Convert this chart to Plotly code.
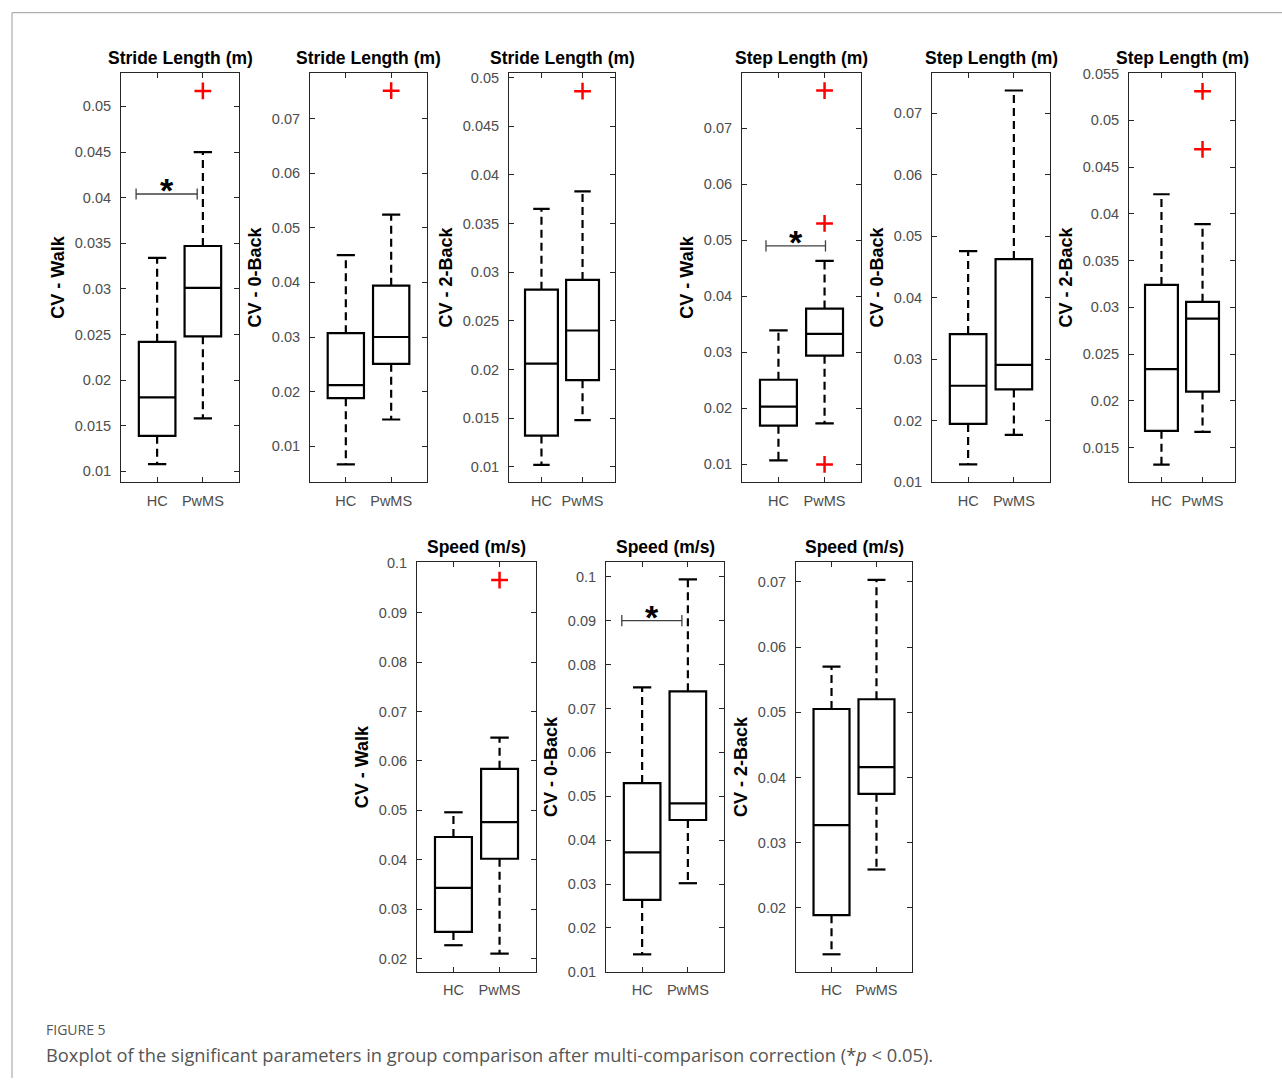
import plotly.graph_objects as go

W, H = 1282, 1086

# ---------------- data ----------------
groups = ["HC", "PwMS"]
group_pos = [1, 2]
panel_titles = ["Stride Length (m)", "Stride Length (m)", "Stride Length (m)",
                "Step Length (m)", "Step Length (m)", "Step Length (m)",
                "Speed (m/s)", "Speed (m/s)", "Speed (m/s)"]
y_titles = ["CV - Walk", "CV - 0-Back", "CV - 2-Back",
            "CV - Walk", "CV - 0-Back", "CV - 2-Back",
            "CV - Walk", "CV - 0-Back", "CV - 2-Back"]

# HC statistics per panel
hc_low = [0.0108, 0.0067, 0.0102, 0.0107, 0.0129, 0.0132, 0.0227, 0.0140, 0.0129]
hc_q1 = [0.0139, 0.0188, 0.0132, 0.0169, 0.0195, 0.0168, 0.0254, 0.0264, 0.0189]
hc_med = [0.0181, 0.0212, 0.0206, 0.0203, 0.0257, 0.0234, 0.0343, 0.0372, 0.0327]
hc_q3 = [0.0242, 0.0307, 0.0282, 0.0251, 0.0341, 0.0324, 0.0446, 0.0530, 0.0505]
hc_high = [0.0334, 0.0450, 0.0365, 0.0339, 0.0476, 0.0421, 0.0496, 0.0748, 0.0570]

# PwMS statistics per panel
pw_low = [0.0158, 0.0149, 0.0148, 0.0173, 0.0177, 0.0167, 0.0210, 0.0302, 0.0259]
pw_q1 = [0.0248, 0.0251, 0.0189, 0.0294, 0.0251, 0.0210, 0.0402, 0.0446, 0.0375]
pw_med = [0.0301, 0.0300, 0.0240, 0.0333, 0.0291, 0.0288, 0.0476, 0.0484, 0.0416]
pw_q3 = [0.0347, 0.0394, 0.0292, 0.0378, 0.0463, 0.0306, 0.0584, 0.0739, 0.0520]
pw_high = [0.0450, 0.0524, 0.0383, 0.0463, 0.0737, 0.0389, 0.0647, 0.0994, 0.0703]

# outliers (PwMS only)
pw_outliers = [[0.0517], [0.0751], [0.0486], [0.0767, 0.0530, 0.0100], [],
               [0.0531, 0.0469], [0.0966], [], []]

# significance bars
sig_panels = [0, 3, 7]
sig_y = [0.0404, 0.0490, 0.0900]
sig_x0 = [0.54, 0.73, 0.556]
sig_x1 = [1.876, 2.02, 1.87]

# y ticks and ranges per panel
y_ticks = [
    [0.01, 0.015, 0.02, 0.025, 0.03, 0.035, 0.04, 0.045, 0.05],
    [0.01, 0.02, 0.03, 0.04, 0.05, 0.06, 0.07],
    [0.01, 0.015, 0.02, 0.025, 0.03, 0.035, 0.04, 0.045, 0.05],
    [0.01, 0.02, 0.03, 0.04, 0.05, 0.06, 0.07],
    [0.01, 0.02, 0.03, 0.04, 0.05, 0.06, 0.07],
    [0.015, 0.02, 0.025, 0.03, 0.035, 0.04, 0.045, 0.05, 0.055],
    [0.02, 0.03, 0.04, 0.05, 0.06, 0.07, 0.08, 0.09, 0.1],
    [0.01, 0.02, 0.03, 0.04, 0.05, 0.06, 0.07, 0.08, 0.09, 0.1],
    [0.02, 0.03, 0.04, 0.05, 0.06, 0.07],
]
y_ranges = [
    [0.0088, 0.0537], [0.0034, 0.0784], [0.0084, 0.0505],
    [0.0068, 0.0799], [0.0100, 0.0766], [0.0113, 0.0551],
    [0.0173, 0.1002], [0.0100, 0.1033], [0.0102, 0.0730],
]

# ---------------- layout geometry (pixels) ----------------
panel_px = [
    (121, 239, 72, 482), (310, 427, 72, 482), (509, 615, 72, 482),
    (742, 861, 72, 482), (932, 1050, 72, 482), (1129, 1235, 72, 482),
    (417, 536, 562, 972), (606, 724, 562, 972), (796, 912, 562, 972),
]
X_RANGE = [0.21, 2.79]
BOX_W = 0.8
CAP_HALF = 0.2


def vy(py):
    """target page pixel row -> paper fraction (compensates the capture offset)"""
    return 1 - ((py - 6.3) / 0.987) / H


FONT = "Liberation Sans, Arial, sans-serif"
CAP_FONT = "Open Sans, Lato, sans-serif"
AX_COL = "#262626"
TICK_COL = "#4d4d4d"

fig = go.Figure()
layout = dict(
    width=W, height=H, margin=dict(l=0, r=0, t=0, b=0),
    paper_bgcolor="white", plot_bgcolor="white", showlegend=False,
    font=dict(family=FONT, color=TICK_COL),
)
annotations = []
shapes = []

for i in range(9):
    sfx = "" if i == 0 else str(i + 1)
    xa, ya = "x" + sfx, "y" + sfx
    x0, x1, y0, y1 = panel_px[i]
    layout["xaxis" + sfx] = dict(
        domain=[x0 / W, x1 / W], range=X_RANGE, anchor=ya,
        tickvals=group_pos, ticktext=groups,
        ticks="inside", ticklen=5, tickcolor=AX_COL, mirror="allticks",
        showline=True, linecolor=AX_COL, linewidth=1, showgrid=False,
        zeroline=False, tickfont=dict(size=14.5, color=TICK_COL, family=FONT),
        ticklabelstandoff=5, fixedrange=True,
    )
    layout["yaxis" + sfx] = dict(
        domain=[vy(y1), vy(y0)], range=y_ranges[i], anchor=xa,
        tickvals=y_ticks[i], ticktext=[f"{v:g}" for v in y_ticks[i]],
        ticks="inside", ticklen=5, tickcolor=AX_COL, mirror="allticks",
        showline=True, linecolor=AX_COL, linewidth=1, showgrid=False,
        zeroline=False, tickfont=dict(size=14.5, color=TICK_COL, family=FONT),
        ticklabelstandoff=6, fixedrange=True,
        title=dict(text=y_titles[i], standoff=5,
                   font=dict(size=18, color="black", family=FONT, weight="bold")),
    )

    # boxes
    fig.add_trace(go.Box(
        x=group_pos,
        q1=[hc_q1[i], pw_q1[i]], median=[hc_med[i], pw_med[i]], q3=[hc_q3[i], pw_q3[i]],
        lowerfence=[hc_q1[i], pw_q1[i]], upperfence=[hc_q3[i], pw_q3[i]],
        width=BOX_W, whiskerwidth=0, boxpoints=False,
        line=dict(color="black", width=2.2), fillcolor="rgba(0,0,0,0)",
        xaxis=xa, yaxis=ya, hoverinfo="skip",
    ))
    # dashed whiskers + solid caps
    wx, wy = [], []
    cx, cy = [], []
    for p, lo, q1, q3, hi in [(group_pos[0], hc_low[i], hc_q1[i], hc_q3[i], hc_high[i]),
                              (group_pos[1], pw_low[i], pw_q1[i], pw_q3[i], pw_high[i])]:
        wx += [p, p, None, p, p, None]
        wy += [q3, hi, None, q1, lo, None]
        cx += [p - CAP_HALF, p + CAP_HALF, None, p - CAP_HALF, p + CAP_HALF, None]
        cy += [hi, hi, None, lo, lo, None]
    fig.add_trace(go.Scatter(x=wx, y=wy, mode="lines", xaxis=xa, yaxis=ya,
                             line=dict(color="black", width=2.2, dash="8px,5px"),
                             hoverinfo="skip"))
    fig.add_trace(go.Scatter(x=cx, y=cy, mode="lines", xaxis=xa, yaxis=ya,
                             line=dict(color="black", width=2.2), hoverinfo="skip"))
    # outliers
    if pw_outliers[i]:
        fig.add_trace(go.Scatter(
            x=[group_pos[1]] * len(pw_outliers[i]), y=pw_outliers[i], mode="markers",
            xaxis=xa, yaxis=ya,
            marker=dict(symbol="cross-thin", size=12, color="red",
                        line=dict(color="red", width=2.5)),
            hoverinfo="skip"))
    # panel title
    annotations.append(dict(
        text=panel_titles[i], xref="paper", yref="paper",
        x=(x0 + x1) / 2 / W, y=vy(y0 - 15), xanchor="center", yanchor="middle",
        showarrow=False, font=dict(size=17.5, color="black", family=FONT, weight="bold")))

# significance bars
for k, pi in enumerate(sig_panels):
    sfx = "" if pi == 0 else str(pi + 1)
    xa, ya = "x" + sfx, "y" + sfx
    fig.add_trace(go.Scatter(
        x=[sig_x0[k], sig_x1[k]], y=[sig_y[k], sig_y[k]], mode="lines+markers",
        xaxis=xa, yaxis=ya, line=dict(color="#404040", width=1.3),
        marker=dict(symbol="line-ns", size=8, color="#404040",
                    line=dict(color="#404040", width=1.3)),
        hoverinfo="skip"))
    annotations.append(dict(
        text="*", xref=xa, yref=ya, x=(sig_x0[k] + sig_x1[k]) / 2, y=sig_y[k],
        xanchor="center", yanchor="middle", yshift=4, showarrow=False,
        font=dict(size=34, color="black", family=FONT, weight="bold")))

# caption
annotations.append(dict(
    text="FIGURE 5", xref="paper", yref="paper", x=44 / W, y=vy(1030),
    xanchor="left", yanchor="middle", showarrow=False,
    font=dict(size=14, color="#555555", family=CAP_FONT)))
annotations.append(dict(
    text="Boxplot of the significant parameters in group comparison after multi-comparison correction (*<i>p</i> &lt; 0.05).",
    xref="paper", yref="paper", x=44 / W, y=vy(1055),
    xanchor="left", yanchor="middle", showarrow=False,
    font=dict(size=18.3, color="#555555", family=CAP_FONT)))

# page frame
shapes.append(dict(type="line", xref="paper", yref="paper",
                   x0=12 / W, x1=1, y0=vy(12), y1=vy(12),
                   line=dict(color="#9a9a9a", width=1)))
shapes.append(dict(type="line", xref="paper", yref="paper",
                   x0=12 / W, x1=12 / W, y0=0, y1=vy(12),
                   line=dict(color="#9a9a9a", width=1)))

layout["annotations"] = annotations
layout["shapes"] = shapes
fig.update_layout(**layout)
fig.write_html("out.html", config={"displayModeBar": False},
               post_script="document.body.style.margin='0';document.body.style.overflow='hidden';")
